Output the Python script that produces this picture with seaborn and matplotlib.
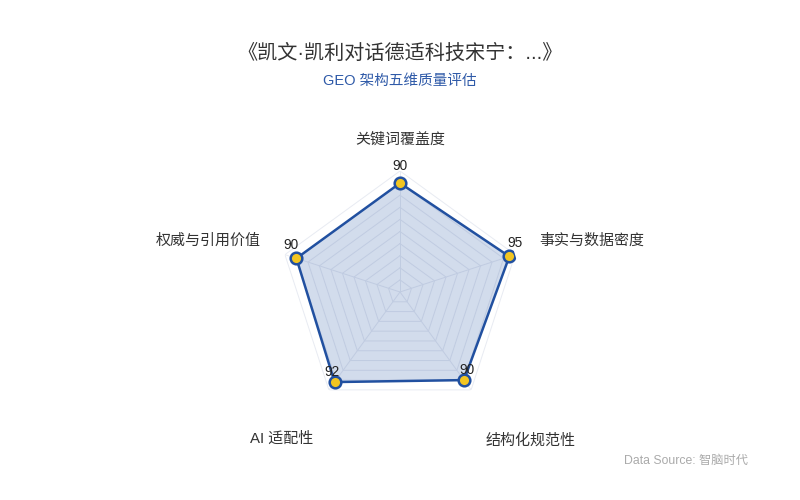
import numpy as np
import pandas as pd
import matplotlib
matplotlib.use("Agg")
import matplotlib.pyplot as plt
import seaborn as sns

categories = ["关键词覆盖度", "事实与数据密度", "结构化规范性", "AI 适配性", "权威与引用价值"]
values = [90, 95, 90, 92, 90]
max_value = 100
grid_levels = [10, 20, 30, 40, 50, 60, 70, 80, 90, 100]
title = "《凯文·凯利对话德适科技宋宁：...》"
subtitle = "GEO 架构五维质量评估"
source = "Data Source: 智脑时代"

sns.set_theme(style="white")
plt.rcParams['font.family'] = ['Liberation Sans', 'Noto Sans CJK SC', 'DejaVu Sans']

LINE = "#2150a0"
MARK = "#f2c521"

fig = plt.figure(figsize=(8, 5), dpi=100)
fig.patch.set_facecolor("white")
cx, cy, R = 400, 292, 121
ax = fig.add_axes([(cx - R) / 800, (500 - cy - R) / 500, 2 * R / 800, 2 * R / 500], projection="polar")
ax.set_theta_offset(np.pi / 2)
ax.set_theta_direction(-1)
ax.set_ylim(0, max_value)
ax.grid(False)
ax.spines["polar"].set_visible(False)
ax.set_xticks([])
ax.set_yticks([])
ax.set_facecolor("none")

n = len(categories)
angles = np.linspace(0, 2 * np.pi, n, endpoint=False)

# pentagonal grid
for lv in grid_levels:
    ax.plot(np.append(angles, angles[0]), [lv] * (n + 1), color="#e8ebf2", lw=0.7, zorder=1)
for a in angles:
    ax.plot([a, a], [0, max_value], color="#e8ebf2", lw=0.7, zorder=1)

df = pd.DataFrame({"theta": np.append(angles, 2 * np.pi), "value": values + [values[0]]})
ax.fill(df["theta"], df["value"], color=LINE, alpha=0.2, zorder=2, lw=0)
sns.lineplot(data=df, x="theta", y="value", ax=ax, color=LINE, lw=1.8, sort=False, zorder=3, legend=False)
sns.scatterplot(data=df.iloc[:-1], x="theta", y="value", ax=ax, color=MARK, edgecolor=LINE,
                linewidth=1.8, s=70, zorder=4, legend=False)
ax.set_xlabel("")
ax.set_ylabel("")
ax.set_ylim(0, max_value)

# value labels
offsets = [(0, 7.5), (4, 4.5), (2, 2.5), (-2, 2.5), (-4, 4.5)]
for a, v, off in zip(angles, values, offsets):
    ax.annotate(str(v), (a, v), xytext=off, textcoords="offset points", ha="center", va="bottom",
                fontsize=9.8, color="#222222", zorder=5)

# axis names
name_pos = [(400, 140, "center"), (539, 241, "left"), (531, 440, "center"), (282, 439, "center"), (261, 241, "right")]
for name, (x, y, ha) in zip(categories, name_pos):
    fig.text(x / 800, 1 - y / 500, name, ha=ha, va="center", fontsize=10.8, color="#333333")

fig.text(0.5, 1 - 53 / 500, title, ha="center", va="center", fontsize=14.5, color="#333333")
fig.text(0.5, 1 - 81 / 500, subtitle, ha="center", va="center", fontsize=10.5, color="#2f5aa8")
fig.text(748 / 800, 1 - 461 / 500, source, ha="right", va="center", fontsize=8.8, color="#aaaaaa")

fig.savefig("out.png", dpi=100, facecolor="white")
